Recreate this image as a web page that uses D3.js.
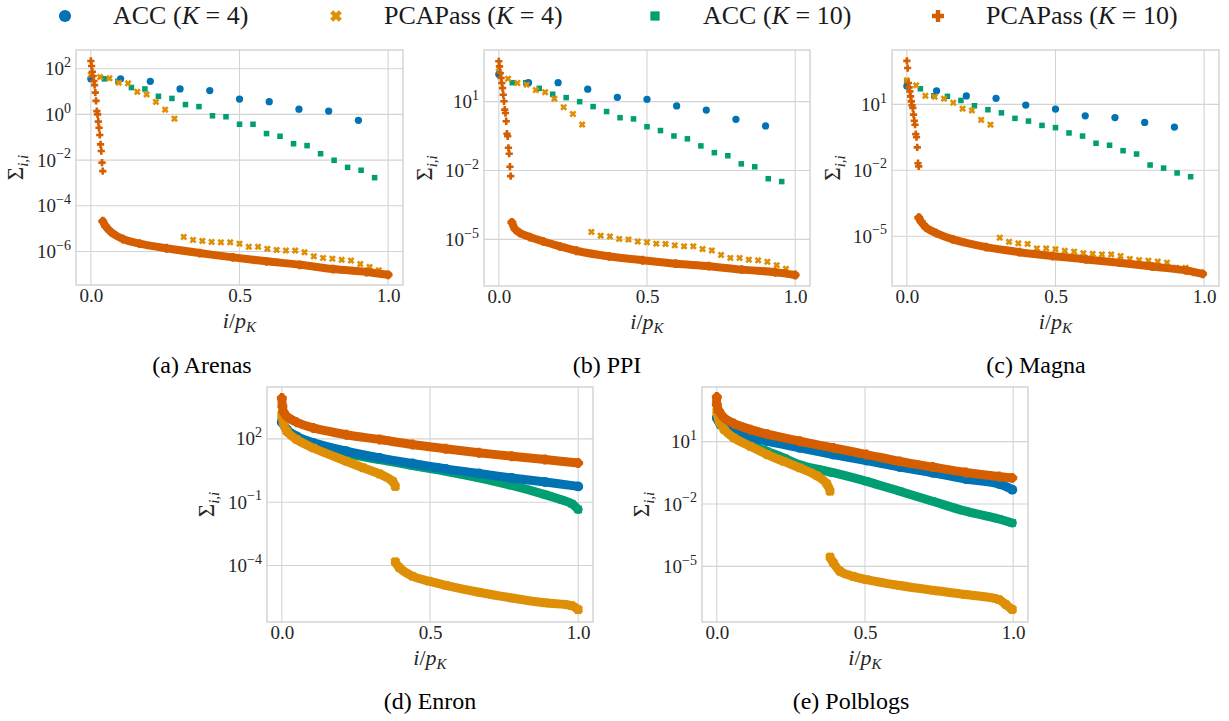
<!DOCTYPE html>
<html>
<head>
<meta charset="utf-8">
<script src="https://cdn.jsdelivr.net/npm/d3@7"></script>
<style>
body { margin: 0; background: #fff; }
text { font-family: "Liberation Serif", "Times New Roman", Times, "DejaVu Serif", "Nimbus Roman", "Noto Serif", serif; fill: #262626; }
</style>
</head>
<body>
<svg id="fig" width="1229" height="721"></svg>
<script>
// ---- data (y = Sigma_ii, x = i/p_K) ----
// discrete series: x = i / n
var arenasAcc4 = [36, 36, 28, 13, 11, 4.7, 3.6, 1.7, 1.4, 0.55];
var arenasAcc10 = [36, 36, 28, 15, 13, 6.2, 5.0, 2.7, 2.2, 0.87, 0.79, 0.37, 0.37, 0.145, 0.11, 0.052, 0.043, 0.019, 0.0098, 0.0048, 0.0036, 0.0017];
var arenasPca4 = [55, 43, 38, 24.5, 23, 9.7, 7.5, 3.5, 1.6, 0.65,
  4.3e-6, 3.2e-6, 2.9e-6, 2.6e-6, 2.5e-6, 2.5e-6, 2.2e-6, 1.6e-6, 1.6e-6, 1.3e-6, 1.17e-6,
  1.1e-6, 1.1e-6, 9.2e-7, 6.1e-7, 5.2e-7, 4.8e-7, 4.3e-7, 4.0e-7, 2.8e-7, 2.1e-7, 1.5e-7];
var arenasPca10Head = [218, 131, 74, 48, 29, 19, 9, 3.9, 1.4, 1.0, 0.48, 0.26, 0.126, 0.049, 0.025, 0.0077, 0.0033];
var arenasPca10Tail = [[0.040, 2.1e-5], [0.050, 1.26e-5], [0.069, 6.9e-6], [0.108, 3.5e-6], [0.164, 2.2e-6], [0.254, 1.38e-6],
  [0.366, 8.5e-7], [0.478, 5.5e-7], [0.591, 3.7e-7], [0.703, 2.6e-7], [0.815, 1.7e-7], [0.927, 1.26e-7], [1.0, 9.5e-8]];

var ppiAcc4 = [155, 67, 67, 35, 15.5, 12.7, 6.5, 4.3, 1.7, 0.87];
var ppiAcc10 = [155, 67, 67, 38, 21, 15, 10, 6.1, 3.7, 2.0, 1.77, 0.81, 0.55, 0.32, 0.24, 0.118, 0.060, 0.044, 0.0195, 0.0145, 0.0044, 0.0033];
var ppiPca4 = [288, 100, 65, 55, 32, 26, 13.5, 5.7, 2.9, 1.0,
  2.1e-5, 1.45e-5, 1.35e-5, 1.05e-5, 9.8e-6, 8.0e-6, 7.4e-6, 6.5e-6, 6.3e-6, 5.5e-6, 5.0e-6,
  5.0e-6, 3.8e-6, 3.3e-6, 2.1e-6, 1.55e-6, 1.55e-6, 1.3e-6, 1.23e-6, 1.05e-6, 7.5e-7, 5.2e-7];
var ppiPca10Head = [575, 345, 177, 107, 65, 39, 20, 10.4, 4.5, 3.2, 1.4, 0.40, 0.31, 0.098, 0.054, 0.0146, 0.0057];
var ppiPca10Tail = [[0.044, 5.5e-5], [0.055, 2.8e-5], [0.071, 1.9e-5], [0.105, 1.26e-5], [0.15, 8.1e-6], [0.206, 5.0e-6],
  [0.262, 3.2e-6], [0.373, 1.8e-6], [0.485, 1.23e-6], [0.597, 8.7e-7], [0.709, 6.8e-7], [0.82, 4.8e-7], [0.933, 3.7e-7], [1.0, 2.8e-7]];

var magnaAcc4 = [68, 41, 24, 18.7, 9.3, 6.1, 3.0, 2.5, 1.5, 0.93];
var magnaAcc10 = [111, 51, 24.5, 23, 15, 8.6, 5.7, 4.1, 2.3, 1.73, 1.1, 0.87, 0.50, 0.36, 0.17, 0.138, 0.078, 0.055, 0.0174, 0.0126, 0.0076, 0.0051];
var magnaPca4 = [123, 73, 24.5, 22, 18, 11.8, 6.3, 5.3, 1.94, 1.18,
  8.7e-6, 5.6e-6, 4.8e-6, 4.5e-6, 2.8e-6, 2.8e-6, 2.6e-6, 2.2e-6, 2.0e-6, 1.7e-6, 1.6e-6,
  1.5e-6, 1.5e-6, 1.27e-6, 9.3e-7, 8.3e-7, 7.8e-7, 7.1e-7, 6.3e-7, 3.7e-7, 3.7e-7, 2.1e-7];
var magnaPca10Head = [950, 447, 93, 59, 39, 23, 13.7, 9, 6.8, 3.4, 1.8, 1.18, 0.44, 0.32, 0.11, 0.021, 0.015];
var magnaPca10Tail = [[0.04, 7e-5], [0.048, 4.6e-5], [0.065, 2.5e-5], [0.099, 1.4e-5], [0.155, 7.2e-6], [0.267, 3.2e-6],
  [0.379, 1.9e-6], [0.49, 1.26e-6], [0.603, 8.9e-7], [0.715, 6.3e-7], [0.826, 4.2e-7], [0.94, 2.8e-7], [0.995, 1.95e-7]];

// dense series: [x, y] samples along the band
var enronAcc4 = [[0, 617], [0.017, 275], [0.05, 132], [0.106, 65], [0.218, 26], [0.33, 12.6], [0.441, 6.8], [0.553, 3.8],
  [0.665, 2.3], [0.776, 1.41], [0.888, 0.91], [1.0, 0.56]];
var enronAcc10 = [[0, 810], [0.017, 275], [0.05, 100], [0.106, 48], [0.218, 20], [0.33, 10.5], [0.441, 5.4], [0.553, 2.9],
  [0.665, 1.41], [0.776, 0.62], [0.888, 0.23], [0.944, 0.13], [0.978, 0.085], [1.0, 0.045]];
var enronPca4Head = [[0, 1410], [0.005, 575], [0.017, 229], [0.05, 93], [0.106, 37], [0.218, 8.7], [0.274, 4.3], [0.33, 2.2],
  [0.374, 0.98], [0.383, 0.56]];
var enronPca4Tail = [[0.383, 1.5e-4], [0.397, 7.8e-5], [0.441, 3.1e-5], [0.497, 1.8e-5], [0.553, 1.15e-5], [0.665, 5.4e-6],
  [0.776, 2.9e-6], [0.888, 1.7e-6], [0.977, 1.26e-6], [1.0, 8.1e-7]];
var enronPca10 = [[0, 8700], [0.002, 3500], [0.005, 2000], [0.017, 1170], [0.05, 617], [0.106, 331], [0.218, 158], [0.33, 93],
  [0.441, 54], [0.553, 34], [0.665, 22], [0.776, 15], [0.888, 10.5], [1.0, 7.2]];

var polblogsAcc4 = [[0, 138], [0.013, 66], [0.058, 32], [0.114, 17], [0.17, 10.5], [0.28, 5.0], [0.393, 2.4], [0.505, 1.23],
  [0.617, 0.60], [0.728, 0.32], [0.84, 0.16], [0.952, 0.093], [0.997, 0.049]];
var polblogsAcc10 = [[0, 158], [0.013, 66], [0.058, 22], [0.114, 7.2], [0.17, 3.4], [0.226, 1.66], [0.28, 0.78], [0.393, 0.32],
  [0.505, 0.123], [0.617, 0.041], [0.728, 0.0135], [0.84, 0.0045], [0.952, 0.0019], [0.997, 0.00123]];
var polblogsPca4Head = [[0, 288], [0.008, 95], [0.025, 38], [0.058, 15], [0.114, 5.9], [0.17, 2.4], [0.226, 1.12], [0.28, 0.55],
  [0.338, 0.23], [0.371, 0.095], [0.382, 0.041]];
var polblogsPca4Tail = [[0.382, 2.8e-5], [0.393, 1.5e-5], [0.416, 5.8e-6], [0.46, 3.3e-6], [0.505, 2.3e-6], [0.617, 1.2e-6],
  [0.728, 7.1e-7], [0.84, 4.4e-7], [0.952, 2.5e-7], [0.975, 1.45e-7], [0.997, 8.3e-8]];
var polblogsPca10 = [[0, 1410], [0, 600], [0.008, 288], [0.025, 138], [0.058, 74], [0.114, 38], [0.17, 23], [0.28, 10.5],
  [0.393, 5.0], [0.505, 2.4], [0.617, 1.12], [0.728, 0.60], [0.84, 0.33], [0.952, 0.21], [0.997, 0.18]];

var xTicks = [0, 0.5, 1];
var legendLabels = [["ACC (", "K", " = 4)"], ["PCAPass (", "K", " = 4)"], ["ACC (", "K", " = 10)"], ["PCAPass (", "K", " = 10)"]];
var legendKeys = ["acc4", "pca4", "acc10", "pca10"];

var colors = { acc4: "#0173b2", pca4: "#de8f05", acc10: "#029e73", pca10: "#d55e00" };

// ---- panels ----
var panels = [
  { caption: "(a) Arenas", box: [76, 50, 403, 285], yDomain: [3.4e-8, 660], yTicks: [1e-6, 1e-4, 1e-2, 1, 1e2],
    capX: 202, capY: 373, labX: 16,
    series: [
      { key: "acc10", values: arenasAcc10, n: 22 },
      { key: "acc4", values: arenasAcc4, n: 10 },
      { key: "pca4", values: arenasPca4, n: 32 },
      { key: "pca10", values: arenasPca10Head, n: 400 },
      { key: "pca10", band: arenasPca10Tail, w: 8 } ] },
  { caption: "(b) PPI", box: [484, 50, 810, 286], yDomain: [9.3e-8, 1780], yTicks: [1e-5, 1e-2, 1e1],
    capX: 607, capY: 373, labX: 425,
    series: [
      { key: "acc10", values: ppiAcc10, n: 22 },
      { key: "acc4", values: ppiAcc4, n: 10 },
      { key: "pca4", values: ppiPca4, n: 32 },
      { key: "pca10", values: ppiPca10Head, n: 400 },
      { key: "pca10", band: ppiPca10Tail, w: 8 } ] },
  { caption: "(c) Magna", box: [892, 50, 1219, 286], yDomain: [5.5e-8, 2950], yTicks: [1e-5, 1e-2, 1e1],
    capX: 1036, capY: 373, labX: 833,
    series: [
      { key: "acc10", values: magnaAcc10, n: 22 },
      { key: "acc4", values: magnaAcc4, n: 10 },
      { key: "pca4", values: magnaPca4, n: 32 },
      { key: "pca10", values: magnaPca10Head, n: 400 },
      { key: "pca10", band: magnaPca10Tail, w: 8 } ] },
  { caption: "(d) Enron", box: [267, 387, 593, 622], yDomain: [2.1e-7, 28800], yTicks: [1e-4, 1e-1, 1e2],
    capX: 430, capY: 709, labX: 207,
    series: [
      { key: "acc10", band: enronAcc10, w: 9 },
      { key: "acc4", band: enronAcc4, w: 9 },
      { key: "pca4", band: enronPca4Head, w: 9 },
      { key: "pca4", band: enronPca4Tail, w: 9 },
      { key: "pca10", band: enronPca10, w: 9 } ] },
  { caption: "(e) Polblogs", box: [702, 387, 1028, 622], yDomain: [2.1e-8, 4270], yTicks: [1e-5, 1e-2, 1e1],
    capX: 851, capY: 709, labX: 642,
    series: [
      { key: "acc10", band: polblogsAcc10, w: 9 },
      { key: "acc4", band: polblogsAcc4, w: 9 },
      { key: "pca4", band: polblogsPca4Head, w: 9 },
      { key: "pca4", band: polblogsPca4Tail, w: 9 },
      { key: "pca10", band: polblogsPca10, w: 9 } ] }
];

// filled plus polygon, half size a, half arm width b
function plusPath(a, b) {
  var p = [[-b,-a],[b,-a],[b,-b],[a,-b],[a,b],[b,b],[b,a],[-b,a],[-b,b],[-a,b],[-a,-b],[-b,-b]];
  return "M" + p.map(function(q){ return q[0] + "," + q[1]; }).join("L") + "Z";
}

function drawMarker(sel, key, s) {
  var c = colors[key];
  if (key == "acc4") sel.append("circle").attr("r", s * 0.55).attr("fill", c);
  else if (key == "acc10") sel.append("rect").attr("x", -s * 0.42).attr("y", -s * 0.42).attr("width", s * 0.84).attr("height", s * 0.84).attr("fill", c);
  else if (key == "pca4") sel.append("path").attr("d", plusPath(s * 0.55, s * 0.2)).attr("transform", "rotate(45)").attr("fill", c);
  else sel.append("path").attr("d", plusPath(s * 0.55, s * 0.2)).attr("fill", c);
}

var svg = d3.select("#fig");

panels.forEach(function(p) {
  var g = svg.append("g");
  var x = d3.scaleLinear().domain([-0.05, 1.05]).range([p.box[0], p.box[2]]);
  var y = d3.scaleLog().domain(p.yDomain).range([p.box[3], p.box[1]]);

  // grid
  g.append("g").selectAll("line").data(xTicks).join("line")
    .attr("x1", d => x(d)).attr("x2", d => x(d)).attr("y1", p.box[1]).attr("y2", p.box[3])
    .attr("stroke", "#d4d4d4").attr("stroke-width", 1.1);
  g.append("g").selectAll("line").data(p.yTicks).join("line")
    .attr("x1", p.box[0]).attr("x2", p.box[2]).attr("y1", d => y(d)).attr("y2", d => y(d))
    .attr("stroke", "#d4d4d4").attr("stroke-width", 1.1);

  // data
  p.series.forEach(function(s) {
    var pts;
    if (s.band) {
      pts = s.band;
      var line = d3.line().x(d => x(d[0])).y(d => y(d[1])).curve(d3.curveCatmullRom.alpha(0.5));
      g.append("path").attr("d", line(pts)).attr("fill", "none").attr("stroke", colors[s.key])
        .attr("stroke-width", s.w).attr("stroke-linecap", "round").attr("stroke-linejoin", "round");
    } else {
      pts = s.values.map(function(v, i) { return [i / s.n, v]; });
    }
    g.append("g").selectAll("g").data(pts).join("g")
      .attr("transform", d => "translate(" + x(d[0]) + "," + y(d[1]) + ")")
      .each(function() { drawMarker(d3.select(this), s.key, s.band ? s.w : 6.6); });
  });

  // spines
  g.append("rect").attr("x", p.box[0]).attr("y", p.box[1])
    .attr("width", p.box[2] - p.box[0]).attr("height", p.box[3] - p.box[1])
    .attr("fill", "none").attr("stroke", "#cccccc").attr("stroke-width", 1.25);

  // axes (labels only)
  var xa = g.append("g").attr("transform", "translate(0," + p.box[3] + ")")
    .call(d3.axisBottom(x).tickValues(xTicks).tickSize(0).tickPadding(4).tickFormat(d3.format(".1f")));
  xa.select(".domain").remove();
  xa.attr("font-family", null).attr("font-size", 19);
  xa.selectAll("text").attr("fill", "#262626");

  var ya = g.append("g").attr("transform", "translate(" + p.box[0] + ",0)")
    .call(d3.axisLeft(y).tickValues(p.yTicks).tickSize(0).tickPadding(5).tickFormat(""));
  ya.select(".domain").remove();
  ya.attr("font-family", null).attr("font-size", 19);
  ya.selectAll(".tick text").each(function(d) {
    var t = d3.select(this).attr("fill", "#262626");
    var e = Math.round(Math.log10(d));
    t.append("tspan").text("10");
    t.append("tspan").attr("dy", "-0.6em").attr("font-size", 14).text(e < 0 ? "\u2212" + (-e) : e);
  });

  // axis titles
  var xl = g.append("text").attr("x", (p.box[0] + p.box[2]) / 2).attr("y", p.box[3] + 43)
    .attr("text-anchor", "middle").attr("font-size", 22);
  xl.append("tspan").attr("font-style", "italic").text("i");
  xl.append("tspan").text("/");
  xl.append("tspan").attr("font-style", "italic").text("p");
  xl.append("tspan").attr("font-style", "italic").attr("font-size", 15).attr("dy", 4).text("K");

  var yl = g.append("text").attr("transform", "translate(" + (p.labX + 7) + "," + (p.box[1] + p.box[3]) / 2 + ") rotate(-90)")
    .attr("text-anchor", "middle").attr("font-size", 23);
  yl.append("tspan").text("\u03A3");
  yl.append("tspan").attr("font-style", "italic").attr("font-size", 15).attr("dy", 5).text("i,i");

  svg.append("text").attr("x", p.capX).attr("y", p.capY).attr("text-anchor", "middle")
    .attr("font-size", 24).style("fill", "#000").text(p.caption);
});

// legend
var legendMarkX = [65, 336, 655, 938];
var lg = svg.append("g");
legendKeys.forEach(function(k, i) {
  var m = lg.append("g").attr("transform", "translate(" + legendMarkX[i] + ",16)");
  drawMarker(m, k, 11);
  var t = lg.append("text").attr("x", legendMarkX[i] + 48).attr("y", 24).attr("font-size", 26).style("fill", "#1a1a1a");
  t.append("tspan").text(legendLabels[i][0]);
  t.append("tspan").attr("font-style", "italic").text(legendLabels[i][1]);
  t.append("tspan").text(legendLabels[i][2]);
});
</script>
</body>
</html>
